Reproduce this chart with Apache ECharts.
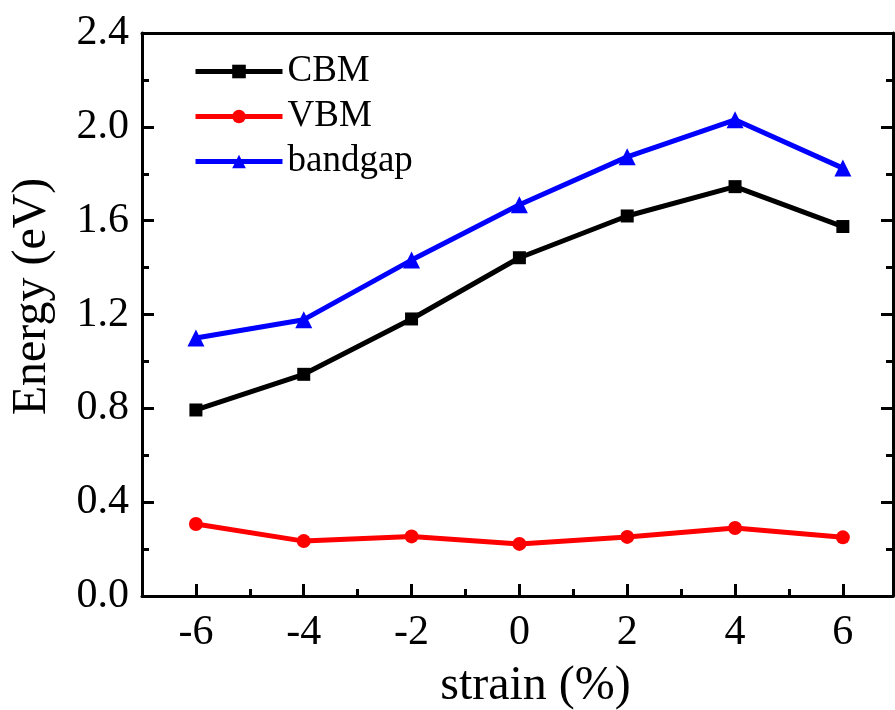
<!DOCTYPE html>
<html>
<head>
<meta charset="utf-8">
<script src="https://cdn.jsdelivr.net/npm/echarts@6/dist/echarts.min.js"></script>
<style>
  html, body { margin: 0; padding: 0; background: #fff; }
  #main { width: 895px; height: 710px; }
</style>
</head>
<body>
<div id="main"></div>
<script>
// 数据
var strain = [-6, -4, -2, 0, 2, 4, 6];
var cbm = [0.793, 0.945, 1.181, 1.442, 1.62, 1.745, 1.575];
var vbm = [0.307, 0.234, 0.254, 0.222, 0.252, 0.29, 0.25];
var bandgap = [1.10, 1.178, 1.432, 1.668, 1.872, 2.03, 1.824];
var xTicks = [-6, -4, -2, 0, 2, 4, 6];
var xMinorTicks = [-5, -3, -1, 1, 3, 5];
var yTicks = [0, 0.4, 0.8, 1.2, 1.6, 2.0, 2.4];

var fontName = '"Liberation Serif", "Times New Roman", serif';

function pairs(xs, ys) {
    var out = [];
    for (var i = 0; i < xs.length; i++) {
        out.push([xs[i], ys[i]]);
    }
    return out;
}

var myChart = echarts.init(document.getElementById('main'));

var option = {
    animation: false,
    backgroundColor: '#fff',
    grid: { left: 142, right: 2, top: 33, bottom: 114, containLabel: false, outerBoundsMode: 'none' },
    legend: {
        orient: 'vertical',
        left: 188,
        top: 48,
        itemWidth: 87,
        itemHeight: 17,
        itemGap: 8,
        lineStyle: { width: 5 },
        textStyle: { fontFamily: fontName, fontSize: 37, color: '#000', lineHeight: 37 },
        data: ['CBM', 'VBM', 'bandgap']
    },
    xAxis: [
        {
            // 主刻度 + 标签
            type: 'value',
            position: 'bottom',
            min: -7,
            max: 6.93,
            splitLine: { show: false },
            axisLine: { onZero: false, lineStyle: { color: '#000', width: 3 } },
            axisTick: { inside: true, length: 12, customValues: xTicks, lineStyle: { color: '#000', width: 3 } },
            axisLabel: {
                margin: 16,
                color: '#000',
                fontFamily: fontName,
                fontSize: 42,
                customValues: xTicks
            },
            name: 'strain (%)',
            nameLocation: 'middle',
            nameGap: 66,
            nameTextStyle: { fontFamily: fontName, fontSize: 48, color: '#000', padding: [0, 0, 0, 36] }
        },
        {
            // 次刻度
            type: 'value',
            position: 'bottom',
            min: -7,
            max: 6.93,
            splitLine: { show: false },
            axisLine: { show: false, onZero: false },
            axisTick: { inside: true, length: 7, customValues: xMinorTicks, lineStyle: { color: '#000', width: 3 } },
            axisLabel: { show: false }
        },
        {
            // 上边框
            type: 'value',
            position: 'top',
            min: -7,
            max: 6.93,
            splitLine: { show: false },
            axisLine: { onZero: false, lineStyle: { color: '#000', width: 3 } },
            axisTick: { show: false },
            axisLabel: { show: false }
        }
    ],
    yAxis: [
        {
            type: 'value',
            position: 'left',
            min: yTicks[0],
            max: yTicks[yTicks.length - 1],
            interval: 0.4,
            splitLine: { show: false },
            axisLine: { onZero: false, lineStyle: { color: '#000', width: 3 } },
            axisTick: { inside: true, length: 12, lineStyle: { color: '#000', width: 3 } },
            minorTick: { show: true, splitNumber: 2, length: 7, lineStyle: { color: '#000', width: 3 } },
            axisLabel: {
                margin: 13,
                color: '#000',
                fontFamily: fontName,
                fontSize: 42,
                formatter: function (v) { return v.toFixed(1); }
            },
            name: 'Energy (eV)',
            nameLocation: 'middle',
            nameGap: 86,
            nameTextStyle: { fontFamily: fontName, fontSize: 48, color: '#000', padding: [0, 0, 0, 36] }
        },
        {
            type: 'value',
            position: 'right',
            min: yTicks[0],
            max: yTicks[yTicks.length - 1],
            interval: 0.4,
            splitLine: { show: false },
            axisLine: { onZero: false, lineStyle: { color: '#000', width: 3 } },
            axisTick: { inside: true, length: 12, lineStyle: { color: '#000', width: 3 } },
            minorTick: { show: true, splitNumber: 2, length: 7, lineStyle: { color: '#000', width: 3 } },
            axisLabel: { show: false }
        }
    ],
    series: [
        {
            name: 'CBM',
            type: 'line',
            data: pairs(strain, cbm),
            symbol: 'rect',
            symbolSize: 13,
            lineStyle: { color: '#000', width: 5 },
            itemStyle: { color: '#000' }
        },
        {
            name: 'VBM',
            type: 'line',
            data: pairs(strain, vbm),
            symbol: 'circle',
            symbolSize: 14,
            lineStyle: { color: '#ff0000', width: 5 },
            itemStyle: { color: '#ff0000' }
        },
        {
            name: 'bandgap',
            type: 'line',
            data: pairs(strain, bandgap),
            symbol: 'triangle',
            symbolSize: 17,
            lineStyle: { color: '#0000ff', width: 5 },
            itemStyle: { color: '#0000ff' }
        }
    ]
};

if (option && typeof option === "object") {
    myChart.setOption(option, true);
}
</script>
</body>
</html>
